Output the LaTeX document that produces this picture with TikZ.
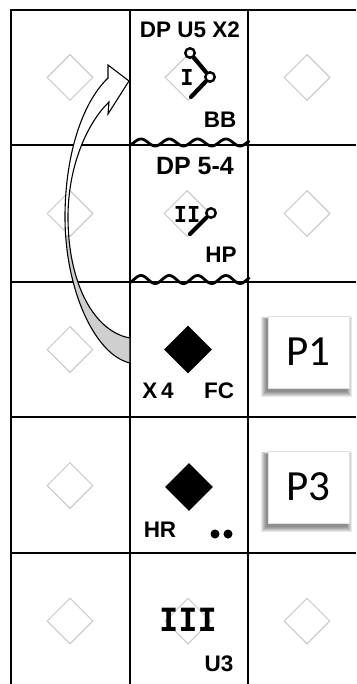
\documentclass[tikz,border=0pt]{standalone}
\usepackage{fontspec}
\setmainfont{Liberation Sans}
\newfontfamily\handfont{Liberation Sans}
\newfontfamily\numfont{DejaVu Sans Mono}
\newfontfamily\pfont{Carlito}
\usetikzlibrary{shapes.geometric}
\begin{document}
\begin{tikzpicture}[x=1pt,y=-1pt,
 gridline/.style={line width=2.3pt},
 gdia/.style={diamond,draw=black!22,line width=1pt,minimum width=46pt,minimum height=46pt,inner sep=0pt},
 bdia/.style={diamond,fill=black,minimum width=48pt,minimum height=48pt,inner sep=0pt},
 hand/.style={font=\handfont\bfseries\fontsize{22.5}{22.5}\selectfont,inner sep=0pt},
 numeral/.style={font=\numfont\bfseries\fontsize{22}{22}\selectfont,inner sep=0pt},
 pbox/.style={fill=white,draw=black!12,line width=0.6pt,minimum width=81pt,minimum height=72pt,inner sep=0pt,font=\pfont\fontsize{43}{43}\selectfont},
 ring/.style={circle,draw,fill=white,line width=2.4pt,inner sep=0pt,minimum size=9.5pt},
 stroke/.style={line width=4.2pt,line cap=round},
 wave/.style={line width=2.8pt},
 band/.style={line width=1.1pt,line join=miter},
 dot/.style={circle,fill=black,minimum size=9pt,inner sep=0pt}
]
\useasboundingbox (0,0) rectangle (356,684);
\fill[white] (0,0) rectangle (356,684);

% grid
\draw[gridline] (11,684) -- (11,10) -- (356,10);
\foreach \yy in {145,282,417,553} \draw[gridline] (11,\yy) -- (356,\yy);
\draw[gridline] (130,10) -- (130,684);
\draw[gridline] (248,10) -- (248,684);

% light diamonds
\foreach \yy/\nm in {77.5/a,213.5/b,349.5/c,485.5/d,621/e}
  \node[gdia] (L\nm) at (70,\yy) {};
\node[gdia] (M1) at (188,77.5) {};
\node[gdia] (M2) at (187,213.5) {};
\node[gdia] (M5) at (188,621) {};
\node[gdia] (R1) at (307,77.5) {};
\node[gdia] (R2) at (307,213.5) {};
\node[gdia] (R5) at (307,621) {};

% black diamonds
\node[bdia] (B3) at (188,349.5) {};
\node[bdia] (B4) at (189,487) {};

% P boxes with soft shadow
\foreach \cy/\nm/\tx in {352/p1/P1,487/p3/P3}{
  \foreach \s in {0,1,2,3,4,5}
    \fill[black,opacity=0.09] (266-\s,\cy-33-\s+0.5*\s) rectangle (347+\s,\cy+40+\s);
  \node[pbox] (\nm) at (308.5,\cy) {\tx};
}

% curved block arrow
\def\bandpath{(130,363) .. controls (95,355) and (65,290) .. (65,217)
  .. controls (65,160) and (80,105) .. (108,78) -- (108,65) -- (129,81)
  -- (108,114) -- (109,102) .. controls (88,122) and (68,165) .. (68,217)
  .. controls (68,285) and (95,332) .. (130,338) -- cycle}
\fill[white] \bandpath;
\begin{scope}
  \clip (0,236) rectangle (140,400);
  \fill[black!19] \bandpath;
\end{scope}
\draw[band] \bandpath;

% wavy lines
\draw[wave] plot[domain=130:249.5,samples=120,smooth] (\x,{142.5-3.5*cos(12.72*(\x-141))});
\draw[wave] plot[domain=130:249.5,samples=120,smooth] (\x,{279.5-4*cos(12.72*(\x-141))});

% texts
\node[hand] (t1) at (190,30) {DP U5 X2};
\node[numeral] (n1) at (187,77) {I};
\node[hand] (t2) at (220,120) {BB};
\node[hand,font=\handfont\bfseries\fontsize{25}{25}\selectfont] (t3) at (195,166) {DP 5-4};
\node[numeral] (n2) at (187,214) {II};
\node[hand] (t4) at (221,255) {HP};
\node[hand] (t5) at (158,391) {X\,4};
\node[hand] (t6) at (219,391) {FC};
\node[hand] (t7) at (160,530) {HR};
\node[numeral,font=\numfont\bfseries\fontsize{32}{32}\selectfont] (n3) at (188,620) {III};
\node[hand] (t8) at (219,664) {U3};

% marks row 1
\node[ring] (r1a) at (190,53) {};
\node[ring] (r1b) at (210,77) {};
\coordinate (r1c) at (191,97);
\draw[stroke] (r1a) -- (r1b);
\draw[stroke] (r1b) -- (r1c);
% marks row 2
\node[ring] (r2a) at (211,213) {};
\coordinate (r2b) at (190,234);
\draw[stroke] (r2a) -- (r2b);

% dots row 4
\node[dot] (d1) at (215,534) {};
\node[dot] (d2) at (228,534) {};
\end{tikzpicture}
\end{document}
